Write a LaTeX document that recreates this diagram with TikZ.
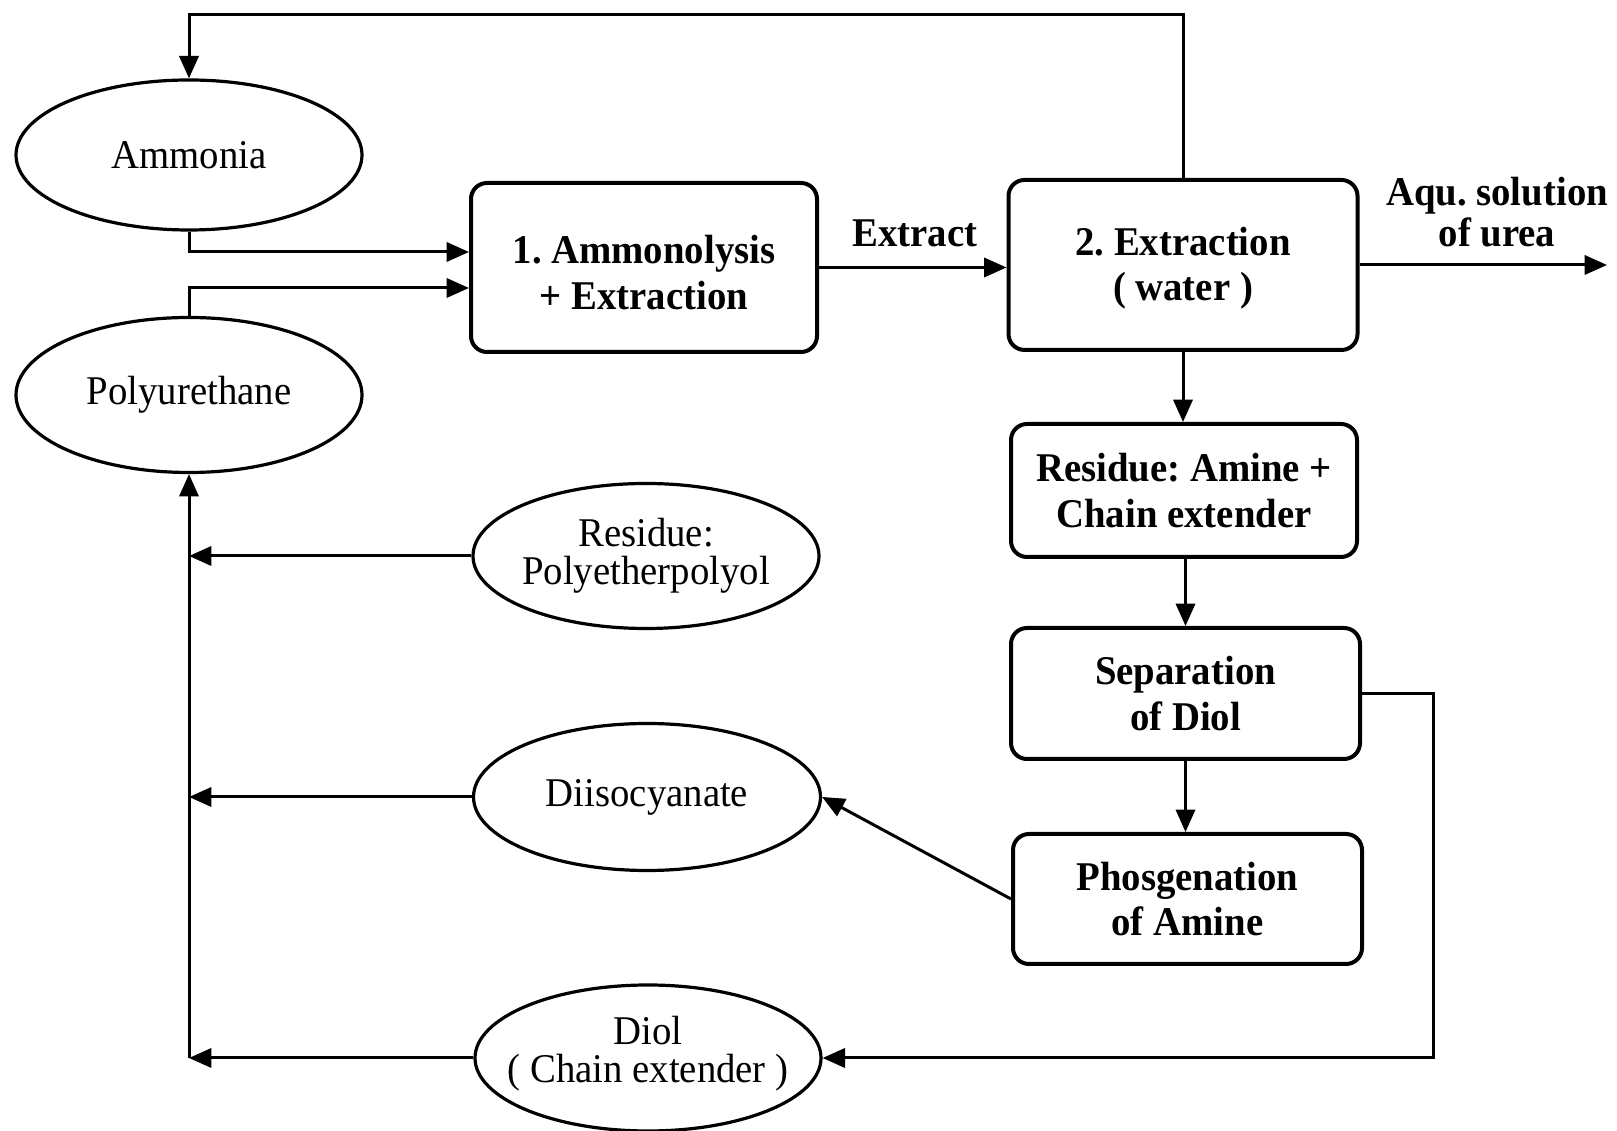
\documentclass[tikz,border=0pt]{standalone}
\usepackage{fontspec}
\setmainfont[FakeStretch=0.95]{Liberation Serif}
\usetikzlibrary{shapes.geometric,arrows.meta,calc}
\begin{document}
\frenchspacing
\begin{tikzpicture}[x=0.25pt,y=-0.25pt,
  arr/.style={-{Triangle[length=5.6pt,width=4.8pt]}, line width=0.75pt},
  proc/.style={draw, line width=1pt, rounded corners=4pt, inner sep=0pt},
  ptext/.style={align=center, inner sep=0pt, font=\bfseries\fontsize{10.2}{11.3}\selectfont},
  oval/.style={draw, ellipse, line width=0.8pt, inner sep=0pt},
  otext/.style={align=center, inner sep=0pt, font=\fontsize{10.2}{9.5}\selectfont},
  lbl/.style={align=center, inner sep=0pt, font=\bfseries\fontsize{10.2}{10.25}\selectfont}]
\useasboundingbox (0,0) rectangle (1617,1131);
\fill[white] (0,0) rectangle (1617,1131);

% ellipses
\node[oval, minimum width=86.5pt, minimum height=37.5pt] (amm) at (189,155) {};
\node[otext] (ammt) at (amm.center) {Ammonia};
\node[oval, minimum width=86.5pt, minimum height=38.75pt] (pu) at (189,395) {};
\node[otext] (put) at (pu.center) {Polyurethane};
\node[oval, minimum width=86.5pt, minimum height=36.25pt] (res) at (646,556) {};
\node[otext] (rest) at (res.center) {Residue:\\Polyetherpolyol};
\node[oval, minimum width=86.75pt, minimum height=36.75pt] (dii) at (647,797) {};
\node[otext] (diit) at (dii.center) {Diisocyanate};
\node[oval, minimum width=86.5pt, minimum height=36.5pt] (diol) at (648,1058) {};
\node[otext] (diolt) at ($(diol.center)+(0,-4)$) {Diol\\( Chain extender )};

% process boxes
\node[proc, minimum width=86.5pt, minimum height=42.25pt] (b1) at (644,267.5) {};
\node[ptext] (b1t) at ($(b1.center)+(0,5)$) {1. Ammonolysis\\+ Extraction};
\node[proc, minimum width=87.25pt, minimum height=42.5pt] (b2) at (1183,265) {};
\node[ptext] (b2t) at ($(b2.center)+(0,3)$) {2. Extraction\\( water )};
\node[proc, minimum width=86.5pt, minimum height=33.25pt] (b3) at (1184,490.5) {};
\node[ptext] (b3t) at (b3.center) {Residue: Amine +\\Chain extender};
\node[proc, minimum width=87.25pt, minimum height=32.75pt] (b4) at (1185.5,693.5) {};
\node[ptext] (b4t) at (b4.center) {Separation\\of Diol};
\node[proc, minimum width=87.25pt, minimum height=32.5pt] (b5) at (1187.5,899) {};
\node[ptext] (b5t) at (b5.center) {Phosgenation\\of Amine};

% labels
\node[lbl] (ext) at (915,233) {Extract};
\node[lbl] (aqu) at (1497,212) {Aqu. solution\\of urea};

% coordinates
\coordinate (tl) at (189,15);
\coordinate (outp) at (1607,265);
\coordinate (rc) at (1433,1058);
\coordinate (lb) at (189,1058);

% connectors
\draw[arr] (b2.north) |- (tl) -- (amm.north);
\draw[arr] (amm.south) |- ($(b1.west)+(0,-15.5)$);
\draw[arr] (pu.north) |- ($(b1.west)+(0,20.5)$);
\draw[arr] (b1.east) -- (b1.east -| b2.west);
\draw[arr] (b2.east) -- (outp);
\draw[arr] (b2.south) -- (b2.south |- b3.north);
\draw[arr] (b4.north |- b3.south) -- (b4.north);
\draw[arr] (b4.south) -- (b4.south |- b5.north);
\draw[arr] (b5.west) -- (dii.east);
\draw[arr] (b4.east) -| (rc) -- (diol.east);
\draw[arr] (lb) -- (pu.south);
\draw[arr] (res.west) -- (res.west -| lb);
\draw[arr] (dii.west) -- (dii.west -| lb);
\draw[arr] (diol.west) -- (lb);
\end{tikzpicture}
\end{document}
